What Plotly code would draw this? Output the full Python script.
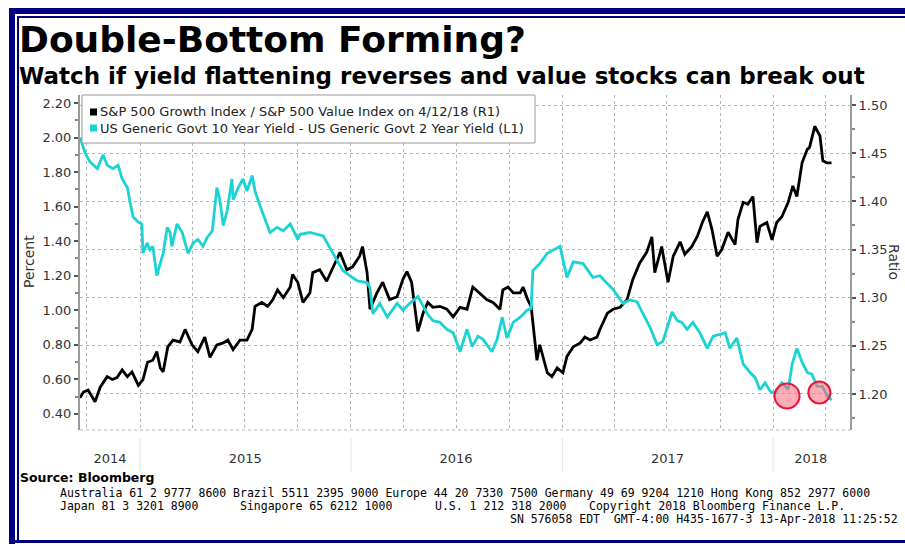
import plotly.graph_objects as go

# ---------------- DATA ----------------
spread_dates = [
    "2014-09-19", "2014-09-28", "2014-10-06", "2014-10-19", "2014-10-29", "2014-11-05", "2014-11-15",
    "2014-11-24", "2014-12-01", "2014-12-10", "2014-12-15", "2014-12-20", "2014-12-29", "2015-01-04",
    "2015-01-06", "2015-01-13", "2015-01-18", "2015-01-23", "2015-01-30", "2015-02-05", "2015-02-10",
    "2015-02-17", "2015-02-22", "2015-02-25", "2015-03-06", "2015-03-15", "2015-03-20", "2015-03-25",
    "2015-04-03", "2015-04-11", "2015-04-20", "2015-04-27", "2015-05-06", "2015-05-14", "2015-05-19",
    "2015-05-25", "2015-06-01", "2015-06-09", "2015-06-11", "2015-06-20", "2015-06-28", "2015-07-05",
    "2015-07-14", "2015-07-19", "2015-07-28", "2015-08-09", "2015-08-14", "2015-08-26", "2015-09-06",
    "2015-09-18", "2015-10-01", "2015-10-05", "2015-10-22", "2015-11-14", "2015-12-01", "2015-12-18",
    "2016-01-12", "2016-01-29", "2016-02-03", "2016-02-08", "2016-02-20", "2016-03-04", "2016-03-21",
    "2016-03-31", "2016-04-12", "2016-04-26", "2016-05-12", "2016-05-22", "2016-06-03", "2016-06-15",
    "2016-06-26", "2016-07-08", "2016-07-20", "2016-07-29", "2016-08-08", "2016-08-17", "2016-09-01",
    "2016-09-10", "2016-09-19", "2016-09-27", "2016-10-08", "2016-10-20", "2016-11-01", "2016-11-08",
    "2016-11-11", "2016-11-23", "2016-12-06", "2016-12-16", "2016-12-28", "2017-01-09", "2017-01-20",
    "2017-02-06", "2017-02-23", "2017-03-07", "2017-03-30", "2017-04-16", "2017-04-28", "2017-05-10",
    "2017-05-21", "2017-06-02", "2017-06-14", "2017-06-24", "2017-07-10", "2017-07-19", "2017-07-27",
    "2017-08-05", "2017-08-15", "2017-08-27", "2017-09-09", "2017-09-19", "2017-10-01", "2017-10-10",
    "2017-10-18", "2017-10-30", "2017-11-10", "2017-11-22", "2017-12-01", "2017-12-09", "2017-12-18",
    "2017-12-27", "2018-01-04", "2018-01-16", "2018-01-27", "2018-02-03", "2018-02-11", "2018-02-20",
    "2018-03-01", "2018-03-09", "2018-03-18", "2018-03-27", "2018-04-04", "2018-04-12",
]
spread_values = [
    2.00, 1.91, 1.86, 1.82, 1.90, 1.84, 1.82,
    1.84, 1.76, 1.71, 1.62, 1.54, 1.51, 1.50,
    1.33, 1.39, 1.35, 1.37, 1.20, 1.27, 1.33,
    1.48, 1.45, 1.37, 1.50, 1.45, 1.39, 1.33,
    1.39, 1.41, 1.37, 1.42, 1.46, 1.71, 1.64,
    1.49, 1.58, 1.76, 1.64, 1.71, 1.76, 1.69,
    1.78, 1.69, 1.60, 1.50, 1.45, 1.48, 1.46,
    1.50, 1.41, 1.44, 1.45, 1.43, 1.33, 1.23,
    1.17, 1.16, 1.13, 0.98, 1.04, 0.96, 1.04,
    1.00, 1.04, 1.08, 0.98, 0.94, 0.93, 0.89,
    0.87, 0.76, 0.89, 0.79, 0.85, 0.83, 0.76,
    0.83, 0.96, 0.84, 0.93, 0.96, 1.00, 1.01,
    1.23, 1.27, 1.33, 1.35, 1.37, 1.19, 1.28,
    1.27, 1.19, 1.20, 1.12, 1.04, 1.06, 1.05,
    0.98, 0.90, 0.80, 0.82, 0.99, 0.94, 0.93,
    0.89, 0.93, 0.87, 0.78, 0.85, 0.86, 0.87,
    0.78, 0.84, 0.69, 0.64, 0.61, 0.54, 0.58,
    0.53, 0.52, 0.58, 0.54, 0.69, 0.78, 0.70,
    0.64, 0.63, 0.56, 0.56, 0.51, 0.48,
]

ratio_dates = [
    "2014-09-19", "2014-09-25", "2014-10-03", "2014-10-15", "2014-10-24", "2014-11-05", "2014-11-14",
    "2014-11-22", "2014-12-01", "2014-12-10", "2014-12-18", "2014-12-29", "2015-01-06", "2015-01-14",
    "2015-01-23", "2015-01-30", "2015-02-05", "2015-02-10", "2015-02-18", "2015-02-27", "2015-03-11",
    "2015-03-20", "2015-04-01", "2015-04-11", "2015-04-23", "2015-05-02", "2015-05-14", "2015-05-25",
    "2015-06-02", "2015-06-11", "2015-06-23", "2015-07-05", "2015-07-14", "2015-07-19", "2015-07-31",
    "2015-08-10", "2015-08-19", "2015-08-27", "2015-09-06", "2015-09-18", "2015-09-22", "2015-10-01",
    "2015-10-10", "2015-10-22", "2015-10-27", "2015-11-08", "2015-11-20", "2015-12-01", "2015-12-13",
    "2015-12-25", "2016-01-04", "2016-01-16", "2016-01-21", "2016-01-29", "2016-02-03", "2016-02-15",
    "2016-02-25", "2016-03-08", "2016-03-21", "2016-03-31", "2016-04-07", "2016-04-15", "2016-04-21",
    "2016-04-26", "2016-05-05", "2016-05-13", "2016-05-22", "2016-06-03", "2016-06-15", "2016-06-26",
    "2016-07-08", "2016-07-20", "2016-07-30", "2016-08-11", "2016-08-23", "2016-09-03", "2016-09-15",
    "2016-09-20", "2016-09-29", "2016-10-08", "2016-10-20", "2016-10-25", "2016-11-02", "2016-11-08",
    "2016-11-14", "2016-11-18", "2016-11-23", "2016-12-06", "2016-12-14", "2016-12-23", "2017-01-02",
    "2017-01-09", "2017-01-20", "2017-02-01", "2017-02-09", "2017-02-18", "2017-03-02", "2017-03-07",
    "2017-03-20", "2017-03-30", "2017-04-11", "2017-04-23", "2017-05-03", "2017-05-15", "2017-05-27",
    "2017-06-05", "2017-06-10", "2017-06-22", "2017-07-03", "2017-07-12", "2017-07-24", "2017-08-01",
    "2017-08-13", "2017-08-23", "2017-09-01", "2017-09-09", "2017-09-17", "2017-09-26", "2017-10-04",
    "2017-10-15", "2017-10-27", "2017-11-01", "2017-11-10", "2017-11-18", "2017-11-27", "2017-12-04",
    "2017-12-09", "2017-12-21", "2017-12-30", "2018-01-07", "2018-01-16", "2018-01-27", "2018-02-04",
    "2018-02-11", "2018-02-20", "2018-03-01", "2018-03-05", "2018-03-14", "2018-03-23", "2018-03-28",
    "2018-04-04", "2018-04-12",
]
ratio_values = [
    1.196, 1.202, 1.204, 1.192, 1.207, 1.218, 1.215,
    1.217, 1.225, 1.218, 1.223, 1.209, 1.215, 1.233,
    1.235, 1.244, 1.227, 1.223, 1.249, 1.256, 1.254,
    1.267, 1.251, 1.244, 1.259, 1.238, 1.251, 1.253,
    1.256, 1.246, 1.256, 1.256, 1.267, 1.291, 1.295,
    1.291, 1.298, 1.308, 1.300, 1.311, 1.324, 1.316,
    1.295, 1.305, 1.326, 1.329, 1.317, 1.332, 1.347,
    1.329, 1.332, 1.343, 1.353, 1.326, 1.288, 1.305,
    1.316, 1.298, 1.301, 1.319, 1.327, 1.316, 1.291,
    1.265, 1.284, 1.295, 1.290, 1.291, 1.288, 1.280,
    1.290, 1.288, 1.311, 1.305, 1.298, 1.295, 1.288,
    1.308, 1.311, 1.305, 1.305, 1.311, 1.298, 1.291,
    1.256, 1.235, 1.251, 1.222, 1.218, 1.227, 1.222,
    1.239, 1.249, 1.253, 1.259, 1.256, 1.259, 1.267,
    1.284, 1.288, 1.290, 1.298, 1.319, 1.336, 1.347,
    1.363, 1.326, 1.353, 1.316, 1.343, 1.358, 1.345,
    1.353, 1.364, 1.379, 1.389, 1.371, 1.343, 1.350,
    1.368, 1.355, 1.381, 1.399, 1.397, 1.405, 1.357,
    1.374, 1.378, 1.360, 1.378, 1.384, 1.399, 1.416,
    1.405, 1.440, 1.454, 1.456, 1.478, 1.468, 1.442,
    1.440, 1.440,
]

year_labels = ["2014", "2015", "2016", "2017", "2018"]
year_label_dates = ["2014-11-10", "2015-07-02", "2016-07-01", "2017-07-02", "2018-03-07"]
year_starts = ["2015-01-01", "2016-01-01", "2017-01-01", "2018-01-01"]

ratio_name = "S&P 500 Growth Index / S&P 500 Value Index on 4/12/18 (R1)"
spread_name = "US Generic Govt 10 Year Yield - US Generic Govt 2 Year Yield (L1)"

# highlighted lows (date, percent)
circle_dates = ["2018-01-25", "2018-03-22"]
circle_values = [0.504, 0.524]
circle_radii = [12.5, 11]

# ---------------- LAYOUT HELPERS ----------------
W, H = 905, 546
ML, MR, MT, MB = 80, 55, 95, 116
PW = W - ML - MR
PH = H - MT - MB


def px(x):
    return (x - ML) / PW


def py(y):
    return (H - MB - y) / PH


CYAN = "#1CD3D3"
NAVY = "#00007F"
TXT = "#333333"
GRID = "#b5b5b5"
FONT = "DejaVu Sans, Verdana, sans-serif"

fig = go.Figure()
fig.add_trace(go.Scatter(
    x=ratio_dates, y=ratio_values, name=ratio_name, mode="lines",
    line=dict(color="black", width=2.8), xaxis="x", yaxis="y", showlegend=False,
))
fig.add_trace(go.Scatter(
    x=spread_dates, y=spread_values, name=spread_name, mode="lines",
    line=dict(color=CYAN, width=2.8), xaxis="x", yaxis="y2", showlegend=False,
))

shapes = []
# year separators below the axis
for d in year_starts:
    shapes.append(dict(type="line", xref="x", yref="paper", x0=d, x1=d,
                       y0=py(438), y1=py(472), line=dict(color="#e2e2e2", width=1)))
# bottom dotted line
shapes.append(dict(type="line", xref="paper", yref="paper", x0=0, x1=1, y0=0, y1=0,
                   line=dict(color=GRID, width=1, dash="dot"), layer="below"))
# legend box and swatches
shapes.append(dict(type="rect", xref="paper", yref="paper", x0=px(82), x1=px(535),
                   y0=py(143), y1=py(95), fillcolor="white",
                   line=dict(color="#9a9a9a", width=1), layer="above"))
shapes.append(dict(type="rect", xref="paper", yref="paper", x0=px(90), x1=px(97),
                   y0=py(115.5), y1=py(108.5), fillcolor="black", line=dict(width=0), layer="above"))
shapes.append(dict(type="rect", xref="paper", yref="paper", x0=px(90), x1=px(97),
                   y0=py(131.5), y1=py(124.5), fillcolor=CYAN, line=dict(width=0), layer="above"))
# highlight circles
for d, v, r in zip(circle_dates, circle_values, circle_radii):
    shapes.append(dict(type="circle", xref="x", yref="y2", xsizemode="pixel", ysizemode="pixel",
                       xanchor=d, yanchor=v, x0=-r, x1=r, y0=-r, y1=r,
                       fillcolor="rgba(255,105,120,0.55)", line=dict(color="#e8143c", width=2),
                       layer="above"))
# navy frame
shapes += [
    dict(type="line", xref="paper", yref="paper", x0=px(12), x1=px(12), y0=py(8), y1=py(544),
         line=dict(color=NAVY, width=6)),
    dict(type="line", xref="paper", yref="paper", x0=px(9), x1=px(910), y0=py(11), y1=py(11),
         line=dict(color=NAVY, width=6)),
    dict(type="line", xref="paper", yref="paper", x0=px(18), x1=px(18), y0=py(16), y1=py(541),
         line=dict(color=NAVY, width=2)),
    dict(type="line", xref="paper", yref="paper", x0=px(17), x1=px(910), y0=py(17), y1=py(17),
         line=dict(color=NAVY, width=2)),
    dict(type="line", xref="paper", yref="paper", x0=px(9), x1=px(910), y0=py(541.5), y1=py(541.5),
         line=dict(color=NAVY, width=3)),
]

ann = []


def text(x, y, s, size, bold=False, anchor="left", family=FONT, color="#000", angle=0):
    ann.append(dict(xref="paper", yref="paper", x=px(x), y=py(y), text=("<b>%s</b>" % s) if bold else s,
                    showarrow=False, xanchor=anchor, yanchor="middle", textangle=angle,
                    font=dict(family=family, size=size, color=color)))


text(17, 40, "Double-Bottom Forming?", 36, bold=True)
text(17, 76, "Watch if yield flattening reverses and value stocks can break out", 23, bold=True)
text(98, 112, ratio_name, 13, color="#222")
text(98, 128, spread_name, 13, color="#222")
text(29, 262, "Percent", 14, anchor="center", color=TXT, angle=-90)
text(894, 262, "Ratio", 14, anchor="center", color=TXT, angle=90)
text(18, 477, "Source: Bloomberg", 12.5, bold=True)
MONO = "DejaVu Sans Mono, monospace"
text(58, 493, "Australia 61 2 9777 8600 Brazil 5511 2395 9000 Europe 44 20 7330 7500 Germany 49 69 9204 1210 Hong Kong 852 2977 6000", 11.5, family=MONO)
text(58, 506, "Japan 81 3 3201 8900", 11.5, family=MONO)
text(238, 506, "Singapore 65 6212 1000", 11.5, family=MONO)
text(433, 506, "U.S. 1 212 318 2000", 11.5, family=MONO)
text(587, 506, "Copyright 2018 Bloomberg Finance L.P.", 11.5, family=MONO)
text(900, 519, "SN 576058 EDT  GMT-4:00 H435-1677-3 13-Apr-2018 11:25:52", 11.5, anchor="right", family=MONO)

fig.update_layout(
    width=W, height=H,
    margin=dict(l=ML, r=MR, t=MT, b=MB, pad=0),
    paper_bgcolor="white", plot_bgcolor="white",
    font=dict(family=FONT, color=TXT, size=13),
    showlegend=False,
    xaxis=dict(
        type="date", range=["2014-09-19", "2018-05-14"],
        tickmode="array", tickvals=year_label_dates, ticktext=year_labels,
        ticks="", showgrid=False, showline=False, zeroline=False,
        tickfont=dict(size=13, color=TXT), ticklabelstandoff=19,
        minor=dict(tick0="2014-10-01", dtick="M3", showgrid=True, gridcolor=GRID,
                   griddash="dot", gridwidth=1, ticks=""),
        anchor="y",
    ),
    yaxis=dict(
        side="right", range=[1.1626, 1.5104], tickmode="linear", tick0=1.2, dtick=0.05,
        tickformat=".2f", ticks="outside", ticklen=4, tickwidth=1.5, tickcolor="#555",
        showline=True, linecolor="#9a9a9a", linewidth=2, zeroline=False,
        showgrid=True, gridcolor=GRID, griddash="dot", gridwidth=1,
        tickfont=dict(size=13, color=TXT),
        minor=dict(tick0=1.2, dtick=0.025, ticks="outside", ticklen=3, tickcolor="#888", showgrid=False),
        anchor="x",
    ),
    yaxis2=dict(
        side="left", overlaying="y", range=[0.307, 2.246], tickmode="linear", tick0=0.4, dtick=0.2,
        tickformat=".2f", ticks="outside", ticklen=4, tickwidth=1.5, tickcolor="#555",
        showline=True, linecolor="#9a9a9a", linewidth=2, zeroline=False, showgrid=False,
        tickfont=dict(size=13, color=TXT),
        minor=dict(tick0=0.4, dtick=0.1, ticks="outside", ticklen=3, tickcolor="#888", showgrid=False),
        anchor="x",
    ),
    shapes=shapes,
    annotations=ann,
)

fig.write_html(
    "out.html",
    config={"displayModeBar": False},
    post_script="document.body.style.margin='0';document.body.style.overflow='hidden';",
)
